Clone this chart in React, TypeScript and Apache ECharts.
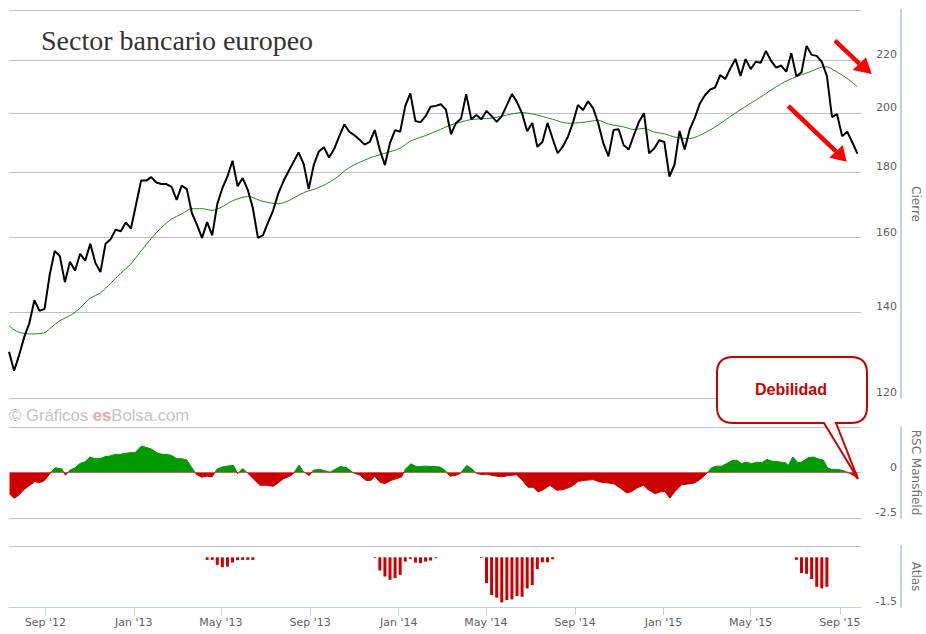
import React, { useEffect, useRef } from "react";
import * as echarts from "echarts";

// ---------- DATA ----------
const startDate = [2012, 6, 13]; // first weekly close (Y, M0, D)
const axisEndDate = [2015, 8, 30];

// weekly closes (week 0 .. 167)
const closes = [
  130.4, 126.0, 129.6, 133.9, 137.2, 143.0, 140.3, 140.8, 149.6, 156.2,
  154.8, 147.7, 153.2, 150.8, 155.4, 153.5, 158.2, 152.9, 150.4, 158.2,
  159.5, 162.3, 161.8, 164.4, 162.6, 169.7, 177.2, 177.2, 178.3, 176.6,
  176.1, 176.1, 175.2, 171.2, 175.6, 174.5, 167.2, 163.7, 159.9, 164.5,
  160.6, 169.9, 174.8, 178.5, 183.6, 175.4, 178.0, 174.3, 168.7, 159.9,
  160.7, 164.4, 168.0, 173.1, 176.9, 180.1, 183.2, 186.4, 182.6, 174.5,
  182.3, 186.7, 188.1, 184.7, 187.5, 191.8, 196.0, 193.4, 192.2, 190.7,
  189.0, 189.9, 194.0, 187.2, 182.2, 189.6, 194.0, 193.4, 202.5, 207.2,
  197.2, 196.7, 198.9, 202.3, 202.6, 203.2, 201.3, 192.6, 196.5, 198.1,
  206.9, 197.8, 199.3, 197.8, 200.8, 198.9, 196.9, 198.9, 202.9, 206.9,
  204.0, 199.9, 193.6, 196.5, 188.3, 189.9, 196.5, 191.1, 186.1, 188.3,
  191.6, 196.5, 202.9, 201.1, 204.3, 201.7, 196.3, 189.4, 185.1, 194.0,
  194.3, 188.8, 187.4, 192.2, 196.9, 199.9, 186.1, 187.7, 190.5, 189.9,
  178.5, 182.3, 193.7, 187.4, 194.2, 198.3, 203.5, 206.5, 208.6, 209.4,
  214.1, 212.6, 216.7, 220.4, 213.8, 220.3, 216.4, 219.3, 218.9, 223.6,
  219.7, 217.0, 217.8, 215.4, 222.7, 213.6, 215.2, 225.6, 222.0, 221.6,
  219.2, 213.8, 198.6, 199.6, 191.9, 193.4, 189.8, 186.0,
];

// moving average (read at these week positions)
const maWeeks = [
  0, 1, 2, 4, 7, 8, 10, 13, 16, 18, 20, 22, 24, 26, 28, 30, 32, 34, 36, 38,
  40, 42, 44, 47, 50, 53, 55, 58, 61, 64, 67, 71, 74, 77, 79, 82, 85, 87, 89, 91,
  95, 98, 101, 103, 105, 107, 110, 113, 116, 118, 121, 123, 125, 127, 129, 131, 134, 136, 139, 142,
  145, 148, 152, 155, 158, 160, 161, 162, 164, 166, 167,
];
const maValues = [
  136.6, 135.6, 135.0, 134.6, 134.9, 135.9, 137.8, 139.9, 143.5, 144.9,
  147.4, 150.1, 152.6, 156.2, 159.7, 162.9, 165.4, 166.9, 168.5, 168.5,
  168.0, 169.1, 170.9, 172.2, 170.7, 170.0, 170.9, 173.4, 175.0, 177.6,
  181.4, 184.5, 186.1, 187.8, 190.2, 192.1, 194.3, 195.8, 196.8, 197.7,
  198.2, 199.3, 200.2, 199.7, 198.8, 197.8, 196.4, 196.7, 197.4, 196.1,
  195.1, 194.2, 194.6, 193.3, 192.7, 191.6, 191.1, 192.2, 195.1, 198.8,
  202.4, 205.9, 210.8, 213.5, 215.6, 217.2, 217.3, 216.4, 214.1, 211.3, 209.6,
];

// RSC Mansfield (read at these week positions)
const rscWeeks = [
  0.1, 1.0, 1.8, 2.8, 3.8, 4.8, 5.1, 5.8, 6.8, 7.4,
  8.4, 9.1, 10.4, 11.1, 12.0, 13.0, 14.0, 15.0, 15.9, 16.9,
  17.9, 18.9, 19.9, 20.9, 21.9, 22.8, 23.8, 24.8, 25.3, 26.1,
  27.1, 28.1, 29.1, 30.1, 31.0, 32.0, 33.0, 34.0, 35.0, 36.0,
  36.9, 37.9, 38.9, 40.0, 40.9, 41.9, 42.9, 44.2, 45.0, 46.0,
  46.8, 48.1, 49.4, 50.7, 52.0, 52.7, 54.0, 55.3, 56.0, 57.1,
  57.9, 59.1, 59.9, 61.2, 63.2, 65.2, 66.5, 67.8, 69.1, 70.3,
  71.3, 72.0, 73.0, 74.0, 75.3, 77.3, 78.0, 79.1, 80.3, 81.6,
  83.5, 84.8, 85.8, 86.8, 87.8, 88.8, 90.1, 91.1, 92.1, 93.1,
  94.0, 95.3, 97.0, 98.3, 99.9, 100.9, 102.2, 103.2, 104.2, 105.2,
  106.5, 107.8, 109.1, 110.8, 112.1, 113.4, 115.0, 116.3, 117.7, 119.0,
  120.3, 121.6, 122.6, 123.6, 124.9, 125.8, 127.2, 128.1, 129.1, 130.1,
  131.1, 132.4, 133.7, 135.0, 136.2, 137.3, 138.3, 139.3, 140.3, 141.3,
  142.5, 143.3, 144.2, 145.1, 146.2, 147.2, 148.2, 149.2, 150.1, 151.4,
  152.8, 153.4, 154.3, 155.3, 156.0, 157.3, 158.3, 159.6, 160.3, 161.1,
  161.9, 163.3, 164.6, 165.6, 166.5, 167.0,
];
const rscValues = [
  -1.17, -1.41, -1.28, -0.98, -0.76, -0.57, -0.48, -0.57, -0.48, -0.30,
  0.07, 0.26, 0.20, -0.15, 0.13, 0.26, 0.50, 0.59, 0.85, 0.76,
  0.76, 0.87, 0.91, 1.0, 1.0, 1.04, 1.09, 1.09, 1.24, 1.46,
  1.37, 1.28, 1.09, 1.0, 1.0, 0.94, 0.76, 0.76, 0.69, 0.26,
  -0.11, -0.26, -0.20, -0.24, 0.17, 0.30, 0.35, 0.39, -0.07, 0.22,
  0.02, -0.35, -0.70, -0.70, -0.76, -0.63, -0.35, -0.20, -0.06, 0.41,
  0.07, -0.17, 0.13, 0.17, 0.02, 0.33, 0.26, -0.02, -0.15, -0.44,
  -0.43, -0.20, -0.54, -0.61, -0.43, -0.24, 0.17, 0.48, 0.31, 0.35,
  0.33, 0.30, 0.13, -0.20, -0.17, -0.06, 0.39, 0.20, -0.06, -0.11,
  -0.09, -0.17, -0.24, -0.17, -0.13, -0.39, -0.81, -0.81, -1.07, -0.94,
  -0.70, -0.98, -0.94, -0.76, -0.48, -0.43, -0.39, -0.52, -0.57, -0.61,
  -0.85, -1.13, -1.04, -0.85, -0.70, -0.94, -1.17, -1.07, -1.04, -1.41,
  -1.04, -0.67, -0.63, -0.57, -0.35, -0.06, 0.26, 0.35, 0.35, 0.50,
  0.67, 0.67, 0.48, 0.57, 0.48, 0.57, 0.54, 0.72, 0.63, 0.59,
  0.54, 0.39, 0.85, 0.54, 0.57, 0.81, 0.85, 0.72, 0.69, 0.26,
  0.17, 0.17, 0.07, -0.06, -0.20, -0.35,
];

// Atlas bars
const atlasWeeks = [
  39, 40, 41, 42, 43, 44, 45, 46, 47, 48,
  72, 73, 74, 75, 76, 77, 78, 79, 80, 81, 82, 83, 84,
  93, 94, 95, 96, 97, 98, 99, 100, 101, 102, 103, 104, 105, 106, 107,
  155, 156, 157, 158, 159, 160, 161,
];
const atlasValues = [
  -0.08, -0.08, -0.23, -0.30, -0.28, -0.16, -0.09, -0.08, -0.08, -0.08,
  -0.02, -0.40, -0.58, -0.68, -0.63, -0.53, -0.13, -0.05, -0.16, -0.18, -0.13, -0.10, -0.03,
  -0.02, -0.78, -1.14, -1.22, -1.36, -1.29, -1.27, -1.17, -1.19, -0.94, -0.84, -0.36, -0.15, -0.15, -0.06,
  -0.08, -0.48, -0.50, -0.66, -0.89, -0.94, -0.89,
];

// axis ticks
const priceTicks = [120, 140, 160, 180, 200, 220];
const priceMin = 120;
const priceMax = 240.6;
const xTickDates = [
  [2012, 8], [2013, 0], [2013, 4], [2013, 8], [2014, 0],
  [2014, 4], [2014, 8], [2015, 0], [2015, 4], [2015, 8],
];
const monthNames = ["Jan", "Feb", "Mar", "Apr", "May", "Jun", "Jul", "Aug", "Sep", "Oct", "Nov", "Dec"];
const rscRange = [-2.5, 2.5];
const atlasRange = [-1.5, 0.34];

// ---------- DECORATION SHAPES ----------
const calloutPath =
  "M733,357 L851,357 Q867,357 867,373 L867,407 Q867,423 851,423 L836,423 L858,479 L824,423 L733,423 Q717,423 717,407 L717,373 Q717,357 733,357 Z";
echarts.graphic.registerShape("calloutBubble", echarts.graphic.extendPath(calloutPath, {}));

const WEEK = 7 * 24 * 3600 * 1000;
const T0 = new Date(startDate[0], startDate[1], startDate[2]).getTime();
const TEND = new Date(axisEndDate[0], axisEndDate[1], axisEndDate[2]).getTime();
const wk = (w: number) => T0 + w * WEEK;
const lg = (v: number) => Math.log10(v);

export default function App() {
  const ref = useRef<HTMLDivElement>(null);

  useEffect(() => {
    if (!ref.current) return;
    const chart = echarts.init(ref.current, null, { renderer: "svg" });

    const xTicks = xTickDates.map(([y, m]) => new Date(y, m, 1).getTime());
    const priceLogTicks = priceTicks.map(lg);
    const LMIN = lg(priceMin);
    const LMAX = lg(priceMax);

    const font = "DejaVu Sans";
    const labelColor = "#606060";
    const axisBlue = "#C0D0E0";
    const gridGray = "#C0C0C0";

    const grids = [
      { left: 9, right: 65, top: 10, height: 388, outerBoundsMode: "none", containLabel: false },
      { left: 9, right: 65, top: 427, height: 91, outerBoundsMode: "none", containLabel: false },
      { left: 9, right: 65, top: 546, height: 61, outerBoundsMode: "none", containLabel: false },
    ];

    const hiddenX = (i: number) => ({
      type: "value",
      gridIndex: i,
      min: T0,
      max: TEND,
      show: false,
      splitLine: { show: false },
    });

    const yCommon = {
      position: "right",
      offset: 40,
      axisLine: { show: true, onZero: false, lineStyle: { color: axisBlue, width: 2 } },
      splitLine: { show: true, lineStyle: { color: gridGray, width: 1 } },
      nameLocation: "middle",
      nameRotate: -90,
      nameGap: 9,
      nameTextStyle: { color: "#707070", fontSize: 12, fontFamily: font },
    };
    const labelCommon = {
      inside: true,
      margin: 4,
      verticalAlign: "bottom",
      color: labelColor,
      fontSize: 11,
      fontFamily: font,
    };

    const option: any = {
      animation: false,
      grid: grids,
      xAxis: [
        hiddenX(0),
        hiddenX(1),
        {
          type: "value",
          gridIndex: 2,
          min: T0,
          max: TEND,
          axisLine: { show: true, onZero: false, lineStyle: { color: axisBlue, width: 1 } },
          axisTick: { show: true, customValues: xTicks, length: 8, lineStyle: { color: axisBlue } },
          axisLabel: {
            customValues: xTicks,
            margin: 10,
            color: labelColor,
            fontSize: 11,
            fontFamily: font,
            formatter: (v: number) => {
              const d = new Date(v);
              return monthNames[d.getMonth()] + " '" + String(d.getFullYear()).slice(2);
            },
          },
          splitLine: { show: false },
        },
      ],
      yAxis: [
        {
          ...yCommon,
          type: "value",
          gridIndex: 0,
          min: LMIN,
          max: LMAX,
          name: "Cierre",
          axisTick: { show: false, customValues: [...priceLogTicks, LMAX] },
          axisLabel: {
            ...labelCommon,
            customValues: priceLogTicks,
            formatter: (v: number) => String(Math.round(Math.pow(10, v))),
          },
        },
        {
          ...yCommon,
          type: "value",
          gridIndex: 1,
          min: rscRange[0],
          max: rscRange[1],
          interval: 2.5,
          name: "RSC Mansfield",
          axisTick: { show: false },
          axisLabel: {
            ...labelCommon,
            formatter: (v: number) => (v >= 2.5 ? "" : v === 0 ? "0" : String(v)),
          },
        },
        {
          ...yCommon,
          type: "value",
          gridIndex: 2,
          min: atlasRange[0],
          max: atlasRange[1],
          name: "Atlas",
          axisTick: { show: false, customValues: [atlasRange[0], atlasRange[1]] },
          axisLabel: {
            ...labelCommon,
            customValues: [atlasRange[0]],
            formatter: (v: number) => String(v),
          },
        },
      ],
      visualMap: [
        {
          type: "piecewise",
          show: false,
          seriesIndex: 2,
          dimension: 1,
          pieces: [
            { gte: -5, lt: 0, color: "#cc0000" },
            { gte: 0, lte: 5, color: "#009900" },
          ],
          outOfRange: { color: "#999999" },
        },
      ],
      series: [
        {
          type: "line",
          name: "Cierre",
          xAxisIndex: 0,
          yAxisIndex: 0,
          data: closes.map((v, i) => [wk(i), lg(v)]),
          showSymbol: false,
          lineStyle: { color: "#000000", width: 2 },
          itemStyle: { color: "#000000" },
          z: 4,
        },
        {
          type: "line",
          name: "Media",
          xAxisIndex: 0,
          yAxisIndex: 0,
          data: maWeeks.map((w, i) => [wk(w), lg(maValues[i])]),
          showSymbol: false,
          smooth: 0.3,
          lineStyle: { color: "#1f8a1f", width: 1 },
          itemStyle: { color: "#1f8a1f" },
          z: 3,
        },
        {
          type: "line",
          name: "RSC Mansfield",
          xAxisIndex: 1,
          yAxisIndex: 1,
          data: rscWeeks.map((w, i) => [wk(w), rscValues[i]]),
          showSymbol: false,
          lineStyle: { width: 1 },
          areaStyle: { opacity: 1 },
        },
        {
          type: "bar",
          name: "Atlas",
          xAxisIndex: 2,
          yAxisIndex: 2,
          data: atlasWeeks.map((w, i) => [wk(w), atlasValues[i]]),
          barWidth: 3,
          itemStyle: { color: "#cc0000" },
        },
      ],
      graphic: [
        {
          type: "text",
          x: 41,
          y: 26,
          z: 100,
          style: {
            text: "Sector bancario europeo",
            fontSize: 28,
            fontFamily: "Liberation Serif",
            fill: "#333333",
          },
        },
        {
          type: "text",
          x: 9,
          y: 415,
          z: 100,
          style: {
            text: "{g|© Gráficos }{r|es}{g|Bolsa.com}",
            verticalAlign: "middle",
            rich: {
              g: { fontSize: 16.7, fontFamily: "Liberation Sans", fill: "#c4c4c4" },
              r: { fontSize: 16.7, fontFamily: "Liberation Sans", fill: "#f4a4a4", fontWeight: "bold" },
            },
          },
        },
        {
          type: "calloutBubble",
          z: 100,
          style: { fill: "#ffffff", stroke: "#cc0000", lineWidth: 2 },
        },
        {
          type: "text",
          x: 791,
          y: 389,
          z: 101,
          style: {
            text: "Debilidad",
            align: "center",
            verticalAlign: "middle",
            fontSize: 16,
            fontWeight: "bold",
            fontFamily: "Liberation Sans",
            fill: "#cc0000",
          },
        },
        {
          type: "line",
          z: 100,
          shape: { x1: 835, y1: 40.7, x2: 859.3, y2: 63.7 },
          style: { stroke: "#ff0000", lineWidth: 4.5 },
        },
        {
          type: "polygon",
          z: 100,
          shape: { points: [[871.7, 74], [852.7, 70], [866, 57.3]] },
          style: { fill: "#ff0000" },
        },
        {
          type: "line",
          z: 100,
          shape: { x1: 788.3, y1: 106, x2: 836, y2: 151.3 },
          style: { stroke: "#ff0000", lineWidth: 4.5 },
        },
        {
          type: "polygon",
          z: 100,
          shape: { points: [[846.7, 161.7], [829.3, 157.7], [842.7, 145]] },
          style: { fill: "#ff0000" },
        },
      ],
    };

    chart.setOption(option);
    return () => chart.dispose();
  }, []);

  return (
    <div
      ref={ref}
      style={{ position: "fixed", left: 0, top: 0, width: 926, height: 634, background: "#ffffff" }}
    />
  );
}
